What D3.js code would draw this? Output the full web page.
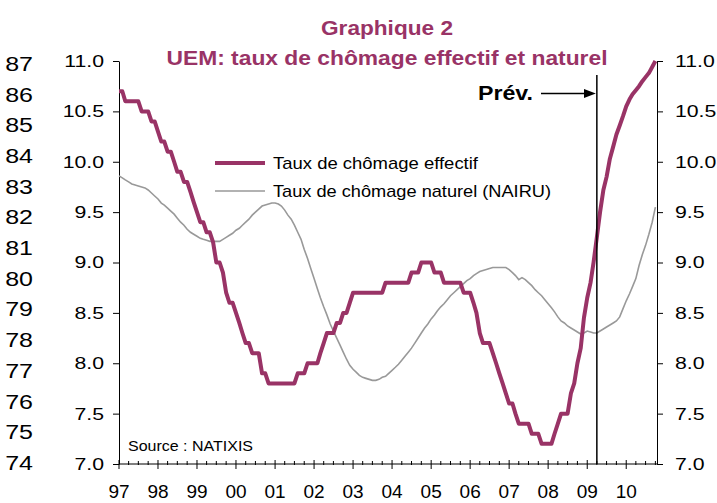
<!DOCTYPE html>
<html>
<head>
<meta charset="utf-8">
<script src="https://cdn.jsdelivr.net/npm/d3@7"></script>
<style>
  body { margin: 0; background: #fff; }
  text { font-family: "Liberation Sans", Arial, sans-serif; }
</style>
</head>
<body>
<svg id="chart" width="717" height="503"></svg>
<script>
// monthly values, Jan 1997 -> Oct 2010
const effectif = [
  10.7, 10.7, 10.6, 10.6, 10.6, 10.6, 10.6, 10.5, 10.5, 10.5, 10.4, 10.4,
  10.3, 10.2, 10.2, 10.1, 10.1, 10.0, 9.9, 9.9, 9.8, 9.8, 9.7, 9.6,
  9.5, 9.4, 9.4, 9.3, 9.3, 9.2, 9.0, 9.0, 8.9, 8.7, 8.6, 8.6,
  8.5, 8.4, 8.3, 8.2, 8.2, 8.1, 8.1, 8.1, 7.9, 7.9, 7.8, 7.8,
  7.8, 7.8, 7.8, 7.8, 7.8, 7.8, 7.8, 7.9, 7.9, 7.9, 8.0, 8.0,
  8.0, 8.0, 8.1, 8.2, 8.3, 8.3, 8.3, 8.4, 8.4, 8.5, 8.5, 8.6,
  8.7, 8.7, 8.7, 8.7, 8.7, 8.7, 8.7, 8.7, 8.7, 8.7, 8.8, 8.8,
  8.8, 8.8, 8.8, 8.8, 8.8, 8.8, 8.9, 8.9, 8.9, 9.0, 9.0, 9.0,
  9.0, 8.9, 8.9, 8.9, 8.8, 8.8, 8.8, 8.8, 8.8, 8.8, 8.7, 8.7,
  8.7, 8.6, 8.5, 8.3, 8.2, 8.2, 8.2, 8.1, 8.0, 7.9, 7.8, 7.7,
  7.6, 7.6, 7.5, 7.4, 7.4, 7.4, 7.4, 7.3, 7.3, 7.3, 7.2, 7.2,
  7.2, 7.2, 7.3, 7.4, 7.5, 7.5, 7.5, 7.7, 7.8, 8.0, 8.15, 8.45,
  8.65, 8.8, 9.0, 9.25, 9.5, 9.72, 9.85, 10.03, 10.15, 10.27, 10.36, 10.45,
  10.55, 10.62, 10.67, 10.71, 10.75, 10.8, 10.84, 10.88, 10.94, 11.0
];

const nairu = [
  9.86, 9.84, 9.82, 9.80, 9.78, 9.77, 9.76, 9.75, 9.74, 9.72, 9.69, 9.66,
  9.63, 9.59, 9.57, 9.54, 9.51, 9.48, 9.44, 9.40, 9.37, 9.33, 9.30, 9.28,
  9.26, 9.24, 9.23, 9.22, 9.21, 9.21, 9.21, 9.21, 9.23, 9.25, 9.27, 9.29,
  9.32, 9.34, 9.37, 9.40, 9.43, 9.47, 9.50, 9.53, 9.56, 9.57, 9.58, 9.59,
  9.59, 9.58, 9.56, 9.52, 9.47, 9.43, 9.37, 9.30, 9.23, 9.13, 9.04, 8.94,
  8.84, 8.74, 8.65, 8.56, 8.48, 8.39, 8.32, 8.25, 8.18, 8.11, 8.04, 7.98,
  7.94, 7.91, 7.88, 7.86, 7.85, 7.84, 7.83, 7.83, 7.84, 7.86, 7.87, 7.90,
  7.93, 7.96, 7.99, 8.03, 8.07, 8.11, 8.15, 8.20, 8.25, 8.30, 8.35, 8.39,
  8.44, 8.48, 8.52, 8.56, 8.59, 8.63, 8.67, 8.70, 8.73, 8.76, 8.79, 8.82,
  8.84, 8.87, 8.89, 8.91, 8.92, 8.93, 8.94, 8.95, 8.95, 8.95, 8.95, 8.95,
  8.93, 8.90, 8.87, 8.83, 8.85, 8.83, 8.80, 8.77, 8.73, 8.70, 8.67, 8.63,
  8.59, 8.55, 8.51, 8.46, 8.42, 8.40, 8.37, 8.35, 8.33, 8.31, 8.29, 8.30,
  8.32, 8.31, 8.30, 8.30, 8.32, 8.34, 8.36, 8.38, 8.40, 8.42, 8.46, 8.54,
  8.62, 8.69, 8.76, 8.84, 8.97, 9.08, 9.17, 9.28, 9.40, 9.55
];

const rateTicks = [7.0, 7.5, 8.0, 8.5, 9.0, 9.5, 10.0, 10.5, 11.0];
const outerTicks = [74, 75, 76, 77, 78, 79, 80, 81, 82, 83, 84, 85, 86, 87];
const legendLabels = ['Taux de chômage effectif', 'Taux de chômage naturel (NAIRU)'];
const forecastStart = new Date(2009, 3, 1);

const PURPLE = '#993366';
const GREY = '#999999';
const SX = 1.25; // labels in the original are stretched sideways

const svg = d3.select('#chart');
const start = new Date(1997, 0, 1);
const months = effectif.map((d, i) => d3.timeMonth.offset(start, i));

const x = d3.scaleTime()
  .domain([start, new Date(2010, 9, 16)])
  .range([119, 657]);
const y = d3.scaleLinear().domain([7, 11]).range([464, 61]);
const yOuter = d3.scaleLinear().domain([74, 87]).range([463, 64]);

// title
svg.append('text')
  .attr('x', 387).attr('y', 35)
  .attr('text-anchor', 'middle')
  .attr('font-size', 21).attr('font-weight', 'bold')
  .attr('fill', PURPLE)
  .attr('textLength', 132).attr('lengthAdjust', 'spacingAndGlyphs')
  .text('Graphique 2');
svg.append('text')
  .attr('x', 387).attr('y', 65)
  .attr('text-anchor', 'middle')
  .attr('font-size', 21).attr('font-weight', 'bold')
  .attr('fill', PURPLE)
  .attr('textLength', 441).attr('lengthAdjust', 'spacingAndGlyphs')
  .text('UEM: taux de chômage effectif et naturel');

// outer label column (74..87)
svg.append('g')
  .attr('transform', 'translate(33,0)')
  .call(d3.axisLeft(yOuter).tickValues(outerTicks).tickSize(0))
  .call(g => g.select('.domain').remove())
  .attr('font-family', null).attr('font-size', 20)
  .call(g => g.selectAll('text')
    .attr('x', 0).attr('transform', `scale(${SX},1)`));

// left and right rate axes
svg.append('g')
  .attr('transform', 'translate(119,0)')
  .call(d3.axisLeft(y).tickValues(rateTicks).tickFormat(d3.format('.1f')).tickSize(6).tickSizeOuter(0))
  .attr('font-family', null).attr('font-size', 17)
  .call(g => g.selectAll('text')
    .attr('x', -15 / SX).attr('transform', `scale(${SX},1)`));

svg.append('g')
  .attr('transform', 'translate(657,0)')
  .call(d3.axisRight(y).tickValues(rateTicks).tickFormat(d3.format('.1f')).tickSize(6).tickSizeOuter(0))
  .attr('font-family', null).attr('font-size', 17)
  .call(g => g.selectAll('text')
    .attr('x', 18 / SX).attr('transform', `scale(${SX},1)`));

// bottom axis: line, quarterly minor ticks, yearly major ticks
const xAxis = svg.append('g').attr('stroke', '#000');
xAxis.append('line')
  .attr('x1', x.range()[0]).attr('x2', x.range()[1])
  .attr('y1', 464).attr('y2', 464);
xAxis.selectAll('.minor')
  .data(d3.timeMonth.every(3).range(start, x.domain()[1]).filter(d => d.getMonth() !== 0))
  .join('line')
  .attr('class', 'minor')
  .attr('x1', d => x(d)).attr('x2', d => x(d))
  .attr('y1', 461).attr('y2', 465);
const years = d3.timeYear.range(start, x.domain()[1]);
xAxis.selectAll('.major')
  .data(years)
  .join('line')
  .attr('class', 'major')
  .attr('x1', d => x(d)).attr('x2', d => x(d))
  .attr('y1', 460).attr('y2', 469);
svg.append('g')
  .selectAll('text')
  .data(years)
  .join('text')
  .attr('x', d => x(d)).attr('y', 498)
  .attr('text-anchor', 'middle')
  .attr('font-size', 19)
  .text(d3.timeFormat('%y'));

// series
const line = values => d3.line()
  .x((d, i) => x(months[i]))
  .y(d => y(d))(values);

svg.append('path')
  .attr('d', line(nairu))
  .attr('fill', 'none')
  .attr('stroke', GREY)
  .attr('stroke-width', 1.6);

svg.append('path')
  .attr('d', line(effectif))
  .attr('fill', 'none')
  .attr('stroke', PURPLE)
  .attr('stroke-width', 4)
  .attr('stroke-linejoin', 'round');

// forecast marker
svg.append('line')
  .attr('x1', x(forecastStart)).attr('x2', x(forecastStart))
  .attr('y1', 75).attr('y2', 464)
  .attr('stroke', '#000').attr('stroke-width', 1.5);
svg.append('line')
  .attr('x1', 541).attr('x2', 586)
  .attr('y1', 93.5).attr('y2', 93.5)
  .attr('stroke', '#000').attr('stroke-width', 1.5);
svg.append('path')
  .attr('d', `M${x(forecastStart) - 1},93.5 L584,89 L584,98 Z`)
  .attr('fill', '#000');
svg.append('text')
  .attr('x', 478).attr('y', 99.5)
  .attr('font-size', 20).attr('font-weight', 'bold')
  .attr('textLength', 55).attr('lengthAdjust', 'spacingAndGlyphs')
  .text('Prév.');

// legend
const legend = svg.append('g');
const legendStyles = [
  { color: PURPLE, width: 4, y: 163, len: 205 },
  { color: GREY, width: 1.6, y: 191, len: 278 }
];
legendLabels.forEach((label, i) => {
  const s = legendStyles[i];
  legend.append('line')
    .attr('x1', 215).attr('x2', 265)
    .attr('y1', s.y).attr('y2', s.y)
    .attr('stroke', s.color).attr('stroke-width', s.width);
  legend.append('text')
    .attr('x', 273).attr('y', s.y).attr('dy', '0.35em')
    .attr('font-size', 17)
    .attr('textLength', s.len).attr('lengthAdjust', 'spacingAndGlyphs')
    .text(label);
});

// source
svg.append('text')
  .attr('x', 128).attr('y', 450.5)
  .attr('font-size', 15)
  .attr('textLength', 125).attr('lengthAdjust', 'spacingAndGlyphs')
  .text('Source : NATIXIS');
</script>
</body>
</html>
